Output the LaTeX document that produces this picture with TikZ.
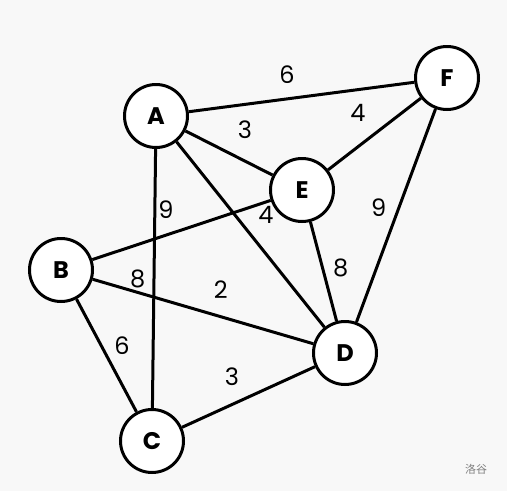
\documentclass[tikz,border=0pt]{standalone}
\usepackage{fontspec}
\setmainfont{Poppins}
\newfontfamily\cjk{Noto Sans CJK SC}
\usetikzlibrary{positioning,calc}
\definecolor{bgcol}{HTML}{F8F8F8}
\tikzset{vertex/.style={circle, draw, fill=white, line width=3pt, minimum size=63pt, inner sep=0pt, font=\fontsize{24}{24}\selectfont\bfseries},
wlabel/.style={font=\fontsize{24}{24}\selectfont, inner sep=0pt}}
\begin{document}
\begin{tikzpicture}[x=1pt, y=-1pt]
\fill[bgcol] (0,0) rectangle (507,491);
\useasboundingbox (0,0) rectangle (507,491);
\node[vertex] (A) at (156,116) {A};
\node[vertex] (F) at (447,78) {F};
\node[vertex] (E) at (302,190) {E};
\node[vertex] (B) at (61,270) {B};
\node[vertex] (D) at (345,353) {D};
\node[vertex] (C) at (152,441) {C};
\path[line width=3pt]
(A) edge (F) edge (E) edge (C) edge (D)
(E) edge (F) edge (D)
(F) edge (D)
(B) edge (E) edge (D) edge (C)
(C) edge (D);
% weights
\node[wlabel] (wAF) at ($(A)!.45!(F)+(0,-24)$) {6};
\node[wlabel] (wAE) at ($(A)!.61!(E)+(0,-31)$) {3};
\node[wlabel] (wAC) at ($(A)!.287!(C)+(11,0)$) {9};
\node[wlabel] (wAD) at ($(A)!.734!(D)+(-74,0)$) {2};
\node[wlabel] (wEF) at ($(E)!.386!(F)+(0,-34)$) {4};
\node[wlabel] (wED) at ($(E)!.479!(D)+(18,0)$) {8};
\node[wlabel] (wFD) at ($(F)!.473!(D)+(-20,0)$) {9};
\node[wlabel] (wBE) at ($(B)!.85!(E)+(0,13)$) {4};
\node[wlabel] (wBD) at ($(B)!.27!(D)+(0,-13)$) {8};
\node[wlabel] (wBC) at ($(B)!.44!(C)+(21,0)$) {6};
\node[wlabel] (wCD) at ($(C)!.414!(D)+(0,-28)$) {3};
\node[text=gray, font=\cjk\fontsize{11}{11}\selectfont] (mark) at (476,469) {洛谷};
\end{tikzpicture}
\end{document}
